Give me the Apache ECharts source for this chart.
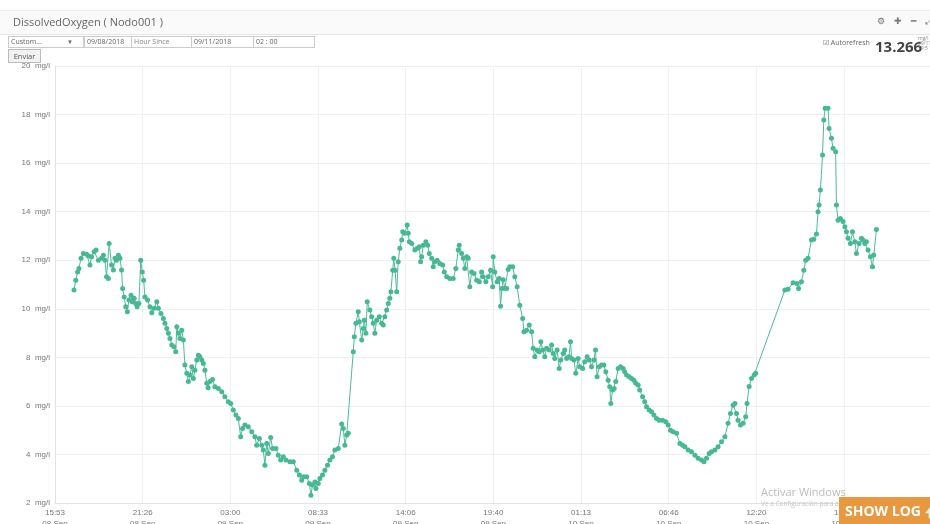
<!DOCTYPE html>
<html>
<head>
<meta charset="utf-8">
<script src="https://cdn.jsdelivr.net/npm/echarts@6/dist/echarts.min.js"></script>
<style>
html,body{margin:0;padding:0;width:930px;height:524px;overflow:hidden;background:#fff;font-family:"Open Sans","Noto Sans",sans-serif;}
#chart{position:absolute;left:0;top:0;width:930px;height:524px;}
.ov{position:absolute;white-space:nowrap;}
.hdr{left:0;top:10px;width:930px;height:23px;background:#fafafa;border-top:1px solid #eee;border-bottom:1px solid #e6e6e6;}
.title{left:13px;top:14px;font-size:11px;color:#666;}
.box{top:36px;height:10px;border:1px solid #ccc;font-size:7px;line-height:10px;color:#666;padding-left:2px;background:#fff;}
.btn{left:8px;top:49px;width:31px;height:12px;border:1px solid #bbb;background:#f2f2f2;font-size:7.5px;line-height:12px;color:#555;text-align:center;}
.icons{top:14px;font-size:9px;color:#777;}
</style>
</head>
<body>
<div id="chart"></div>
<div class="ov hdr"></div>
<div class="ov title">DissolvedOxygen ( Nodo001 )</div>
<div class="ov box" style="left:8px;width:72px;">Custom...<span style="position:absolute;left:58px;font-size:6px;">▼</span></div>
<div class="ov box" style="left:84px;width:44px;">09/08/2018</div>
<div class="ov box" style="left:131px;width:57px;color:#888;">Hour Since</div>
<div class="ov box" style="left:191px;width:59px;">09/11/2018</div>
<div class="ov box" style="left:253px;width:58px;">02 : 00</div>
<div class="ov btn">Enviar</div>
<div class="ov icons" style="left:877px;">⚙</div>
<div class="ov icons" style="left:894px;">✚</div>
<div class="ov icons" style="left:911px;">━</div>
<div class="ov icons" style="left:926px;">⤢</div>
<div class="ov" style="left:823px;top:38px;font-size:7px;color:#666;">☑ Autorefresh</div>
<div class="ov" style="left:875px;top:36px;font-size:15px;font-weight:bold;color:#444;">13.266</div>
<div class="ov" style="left:918px;top:36px;font-size:5px;line-height:5px;color:#888;">mg/l<br>09/11<br>19:5</div>
<div class="ov" style="left:761px;top:484px;font-size:11px;color:#bbb;">Activar Windows</div>
<div class="ov" style="left:761px;top:499px;font-size:6.5px;color:#c4c4c4;">Ve a Configuración para activar Windows.</div>
<div class="ov" style="left:839px;top:497px;width:91px;height:27px;background:#e8993f;color:#fff;font-size:14px;font-weight:bold;line-height:28px;padding-left:6px;box-sizing:border-box;">SHOW LOG <span style="color:#dff3d8;">🡅</span></div>
<script>
// Minutes elapsed since 2018-09-08 15:53:20 (axis start)
const elapsedMin = [72,79,86,91,99,108,120,127,133,139,149,156,165,177,184,190,196,203,206,215,222,228,234,241,247,253,257,263,269,275,281,289,294,301,307,312,319,326,332,337,342,352,361,368,377,387,393,403,412,418,425,431,437,444,452,459,463,469,475,482,488,494,501,507,513,520,526,532,539,545,551,558,564,570,577,582,589,599,608,621,634,646,659,668,678,688,697,706,713,722,735,748,760,767,777,786,792,798,805,811,820,827,840,849,858,868,878,893,906,919,929,938,946,957,967,973,979,988,992,1001,1007,1017,1026,1036,1045,1055,1064,1077,1090,1096,1102,1109,1115,1134,1138,1144,1153,1157,1166,1172,1176,1182,1187,1197,1204,1210,1216,1223,1233,1242,1248,1254,1261,1267,1273,1277,1284,1288,1293,1299,1305,1311,1318,1322,1330,1339,1343,1347,1356,1368,1377,1385,1390,1394,1400,1410,1417,1423,1432,1438,1444,1453,1463,1474,1480,1489,1501,1514,1524,1533,1537,1546,1552,1558,1565,1571,1577,1584,1593,1603,1613,1622,1628,1638,1647,1656,1664,1666,1672,1681,1689,1694,1699,1704,1710,1717,1723,1729,1740,1748,1757,1767,1778,1783,1793,1803,1812,1818,1824,1833,1841,1847,1854,1862,1869,1879,1888,1894,1900,1909,1917,1923,1932,1938,1945,1954,1960,1964,1973,1980,1989,1995,2006,2014,2023,2031,2040,2049,2055,2061,2069,2078,2087,2094,2103,2109,2113,2120,2126,2132,2141,2150,2160,2166,2173,2183,2192,2201,2208,2217,2223,2234,2242,2249,2259,2268,2277,2287,2297,2310,2322,2331,2340,2350,2363,2376,2386,2395,2407,2420,2433,2445,2458,2467,2477,2487,2496,2509,2521,2534,2547,2559,2568,2578,2585,2591,2597,2606,2616,2626,2631,2639,2648,2658,2664,2775,2787,2806,2821,2827,2838,2847,2854,2863,2876,2885,2895,2901,2905,2910,2918,2923,2928,2939,2943,2952,2958,2968,2971,2977,2986,2996,3003,3009,3015,3024,3032,3041,3047,3057,3066,3072,3079,3085,3091,3100,3108,3113,3123];
// Dissolved oxygen, mg/l
const oxygen = [10.77,11.18,11.52,11.66,12.08,12.28,12.25,12.17,11.8,12.14,12.35,12.42,12.0,12.08,12.2,12.0,11.32,11.25,12.69,11.8,11.6,12.08,12.0,12.2,12.08,11.6,10.84,10.49,10.08,9.88,10.36,10.56,10.29,10.43,10.22,10.08,10.22,12.0,11.52,11.18,10.49,10.36,10.08,9.84,10.02,10.29,10.02,9.81,9.6,9.4,9.19,8.99,8.78,8.51,8.44,8.23,9.26,8.99,8.78,9.12,8.71,7.68,7.34,7.0,7.27,7.61,7.13,7.47,7.89,8.09,8.02,7.89,7.75,7.47,6.93,6.75,7.0,7.09,6.79,6.72,6.58,6.38,6.17,6.1,5.83,5.62,5.48,4.73,5.07,5.21,5.14,4.93,4.73,4.38,4.66,4.38,4.18,3.56,4.45,4.04,4.7,4.25,4.25,3.97,3.77,3.9,3.77,3.7,3.7,3.35,3.15,2.94,3.08,3.08,2.8,2.32,2.74,2.87,2.6,2.8,3.01,3.15,3.35,3.56,3.77,3.9,4.18,4.25,5.25,5.07,4.38,4.8,4.87,8.23,8.85,9.4,9.88,9.47,8.71,9.19,9.53,8.99,10.29,9.95,9.67,9.4,8.99,9.53,9.67,9.4,9.33,9.67,9.95,10.22,10.43,10.7,11.59,12.08,11.59,10.7,11.94,12.49,12.83,13.17,13.11,13.45,13.11,12.76,12.69,12.42,12.49,12.56,11.94,12.14,12.62,12.76,12.62,12.28,12.08,11.73,11.94,12.0,11.87,11.8,11.52,11.32,11.25,11.25,11.66,12.42,12.62,12.28,12.08,11.66,12.14,12.08,10.91,11.52,11.45,11.18,11.11,11.52,11.32,11.11,11.32,11.59,10.91,12.14,11.52,11.11,11.25,10.1,10.84,11.2,10.85,10.84,11.62,11.73,11.73,11.32,10.91,10.15,9.6,9.05,9.12,9.33,9.05,8.37,8.02,8.3,8.23,8.64,8.3,8.02,8.37,8.3,8.51,8.16,7.95,8.3,7.54,7.89,8.16,8.3,7.95,8.02,8.64,7.95,7.89,7.34,7.95,7.61,7.54,7.82,8.02,7.89,7.61,7.89,8.3,7.2,7.61,7.68,7.68,7.41,7.06,6.79,6.1,6.65,6.72,7.0,7.54,7.61,7.54,7.41,7.27,7.2,7.13,7.06,6.93,6.86,6.65,6.38,6.17,5.96,5.83,5.76,5.62,5.48,5.41,5.41,5.35,5.21,5.0,4.93,4.87,4.45,4.38,4.32,4.18,4.11,3.97,3.84,3.77,3.7,3.84,4.04,4.11,4.18,4.32,4.52,4.73,5.28,5.69,6.03,6.1,5.69,5.41,5.21,5.28,5.55,6.1,6.8,7.13,7.27,7.34,10.77,10.8,11.07,11.04,10.84,11.11,11.59,12.0,12.08,12.83,12.86,13.08,14.0,14.27,14.89,16.33,17.78,18.26,18.26,17.43,17.02,16.61,16.47,14.27,13.65,13.72,13.59,13.38,13.17,12.9,12.69,13.17,12.76,12.28,12.69,12.9,12.83,12.69,12.76,12.42,12.14,11.73,12.21,13.266];
const yTicks = [2,4,6,8,10,12,14,16,18,20];
const tickStepSec = 20000;          // 5h 33m 20s between time labels
const axisStartUTC = Date.UTC(2018, 8, 8, 15, 53, 20);
const monthNames = ['Jan','Feb','Mar','Apr','May','Jun','Jul','Aug','Sep','Oct','Nov','Dec'];

const seriesData = elapsedMin.map((m, i) => [m * 60, oxygen[i]]);
const pad = n => (n < 10 ? '0' : '') + n;

const chart = echarts.init(document.getElementById('chart'), null, {renderer: 'canvas'});
chart.setOption({
  animation: false,
  grid: {left: 55, right: 0, top: 66, bottom: 21, containLabel: false, outerBoundsMode: 'none'},
  xAxis: {
    type: 'value',
    min: 0,
    max: 199600,
    interval: tickStepSec,
    axisLine: {show: true, lineStyle: {color: '#e2e2e2'}},
    axisTick: {show: false},
    splitLine: {show: true, lineStyle: {color: '#f0f0f0'}},
    axisLabel: {
      showMaxLabel: false,
      hideOverlap: false,
      margin: 4,
      fontSize: 8,
      lineHeight: 11,
      color: '#777',
      formatter: v => {
        const d = new Date(axisStartUTC + v * 1000);
        return pad(d.getUTCHours()) + ':' + pad(d.getUTCMinutes()) + '\n' +
               pad(d.getUTCDate()) + ' ' + monthNames[d.getUTCMonth()];
      }
    }
  },
  yAxis: {
    type: 'value',
    min: yTicks[0],
    max: yTicks[yTicks.length - 1],
    interval: yTicks[1] - yTicks[0],
    axisLine: {show: true, lineStyle: {color: '#e2e2e2'}},
    axisTick: {show: false},
    splitLine: {show: true, lineStyle: {color: '#f0f0f0'}},
    axisLabel: {margin: 5, fontSize: 8, color: '#777', formatter: v => v + '  mg/l'}
  },
  series: [{
    type: 'line',
    data: seriesData,
    symbol: 'circle',
    symbolSize: 5,
    showSymbol: true,
    lineStyle: {width: 1, color: '#4cbb98'},
    itemStyle: {color: '#47b894'},
    emphasis: {disabled: true}
  }]
});
</script>
</body>
</html>
